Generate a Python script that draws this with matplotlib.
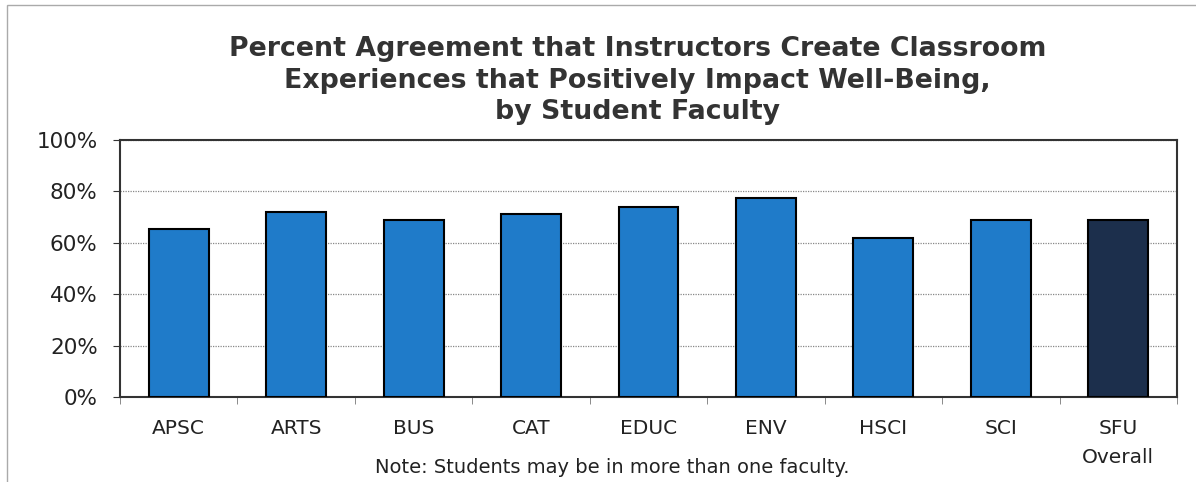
import numpy as np
import matplotlib.pyplot as plt
from matplotlib.patches import Rectangle

faculties = ['APSC', 'ARTS', 'BUS', 'CAT', 'EDUC', 'ENV', 'HSCI', 'SCI', 'SFU\nOverall']
agree_pct = [65.3, 71.8, 68.9, 71.2, 74.0, 77.5, 62.0, 68.9, 68.9]
bar_colors = ['#1f7bc9'] * 8 + ['#1c2f4c']

fig = plt.figure(figsize=(11.96, 4.82), dpi=100)
ax = fig.add_axes([0.1003, 0.1763, 0.8838, 0.5332])

x = np.arange(len(faculties))
ax.bar(x, agree_pct, width=0.51, color=bar_colors, edgecolor='black', linewidth=1.5, zorder=3)

ax.set_xlim(-0.5, len(faculties) - 0.5)
ax.set_ylim(0, 100)
ax.set_yticks(np.arange(0, 101, 20))
ax.set_yticklabels([f'{v}%' for v in range(0, 101, 20)], fontsize=15.5, color='#222222')
ax.set_xticks(x)
ax.set_xticklabels(faculties, fontsize=14.5, color='#222222', va='top', linespacing=1.65)
ax.tick_params(axis='x', length=0, pad=16)
ax.set_xticks(np.arange(-0.5, len(faculties), 1), minor=True)
ax.tick_params(axis='x', which='minor', length=5, color='#777777', direction='out')
ax.tick_params(axis='y', length=5, color='#333333', pad=11)

ax.yaxis.grid(True, linestyle=(0, (1, 1)), color='#888888', linewidth=0.9, zorder=0)
for side in ['left', 'bottom', 'top', 'right']:
    ax.spines[side].set_linewidth(1.5)
    ax.spines[side].set_color('#333333')

fig.text(0.533, 0.925,
         'Percent Agreement that Instructors Create Classroom\n'
         'Experiences that Positively Impact Well-Being,\n'
         'by Student Faculty',
         ha='center', va='top', fontsize=19.3, fontweight='bold', color='#333333', linespacing=1.27)
fig.text(0.512, 0.03, 'Note: Students may be in more than one faculty.',
         ha='center', va='center', fontsize=14, color='#222222')

fig.patches.append(Rectangle((0.006, -0.01), 1.2, 1.0, transform=fig.transFigure,
                             fill=False, edgecolor='#aaaaaa', linewidth=1))

fig.savefig('out.png', dpi=100)
